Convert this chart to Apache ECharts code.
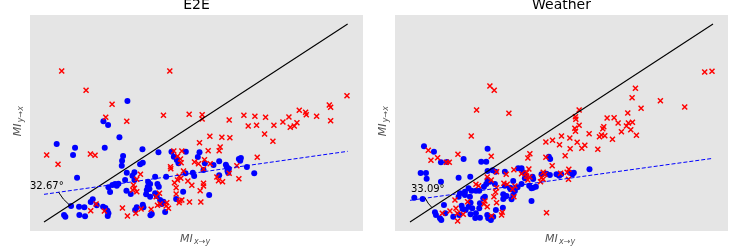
<!DOCTYPE html>
<html><head><meta charset="utf-8">
<script src="https://cdn.jsdelivr.net/npm/echarts@6/dist/echarts.min.js"></script>
<style>html,body{margin:0;padding:0;background:#fff}#c{width:741px;height:247px}</style>
</head><body><div id="c"></div>
<script>
const panelTitles = ['E2E', 'Weather'];
const xAxisName = ['MI', 'x→y'];
const yAxisName = ['MI', 'y→x'];
const angleLabels = ['32.67°', '33.09°'];
const angleLabelAt = [[90, 140], [123, 132]];
const xRanges = [[90, 1088], [75, 1075]];
const yRange = [7, 655];

const e2eBlue = [
[382,397],[310,336],[324,325],[358,288],[170,268],[225,257],[219,235],[314,257],[427,252],[231,167],
[369,232],[366,218],[365,203],[428,212],[420,207],[380,182],[403,183],[397,173],[375,160],[403,160],
[337,145],[345,148],[355,149],[350,143],[325,138],[330,124],[379,128],[392,118],[278,102],[272,94],
[290,84],[309,80],[316,76],[322,68],[325,60],[323,52],[237,80],[253,78],[213,82],[192,55],
[196,50],[238,55],[255,51],[428,86],[430,78],[410,78],[405,70],[444,155],[450,148],[443,140],
[448,133],[440,130],[438,117],[450,110],[472,148],[476,140],[465,120],[470,112],[480,100],[490,95],
[485,88],[495,64],[455,58],[451,54],[465,170],[498,170],[475,243],[514,245],[521,230],[530,220],
[535,210],[557,245],[598,243],[593,229],[614,210],[640,205],[657,216],[677,206],[680,199],[686,194],
[682,187],[716,223],[722,226],[720,218],[740,199],[762,180],[610,190],[578,182],[582,172],[556,180],
[657,174],[684,182],[549,125],[627,115],[528,103]
];
const e2eRed = [
[185,487],[509,487],[258,429],[336,387],[1040,413],[317,348],[380,336],[490,354],[567,357],[606,356],
[606,343],[687,340],[731,354],[764,351],[796,348],[744,322],[769,324],[821,324],[848,334],[866,349],
[897,369],[916,363],[918,356],[949,351],[987,385],[991,378],[991,338],[870,318],[882,322],[890,332],
[793,298],[818,276],[629,291],[665,288],[689,287],[598,272],[660,259],[657,248],[624,248],[771,228],
[140,235],[174,207],[271,238],[285,234],[716,164],[521,247],[545,247],[532,231],[541,223],[543,212],
[511,200],[512,194],[550,187],[537,171],[542,165],[532,160],[523,152],[563,157],[575,144],[583,214],
[595,209],[613,221],[630,209],[610,193],[650,169],[667,155],[655,158],[687,180],[710,203],[610,150],
[610,142],[600,128],[528,137],[528,118],[478,120],[468,110],[539,98],[545,100],[537,92],[568,94],
[602,94],[500,92],[498,82],[505,75],[480,88],[472,84],[453,72],[423,73],[407,60],[382,52],
[367,76],[421,177],[410,162],[400,145],[403,135],[410,125],[398,130],[288,88],[272,68],[313,67]
];
const e2eDiagonal = [[132, 34], [1042, 628]];
const e2eFit = [[132, 117], [1042, 246]];

const weatherBlue = [
[162,261],[192,245],[213,213],[231,214],[281,223],[353,254],[334,215],[349,215],[152,181],[168,181],
[170,164],[213,155],[266,167],[301,170],[353,187],[368,189],[377,185],[405,185],[445,195],[455,195],
[460,183],[468,172],[465,165],[488,170],[490,163],[530,179],[560,177],[568,173],[574,177],[600,182],
[608,177],[659,192],[537,230],[541,223],[430,157],[405,143],[422,132],[400,117],[405,110],[410,112],
[400,103],[435,127],[430,115],[478,143],[485,135],[490,137],[498,140],[485,97],[378,70],[370,50],
[133,107],[158,103],[222,85],[195,63],[198,55],[210,45],[214,40],[250,50],[226,60],[330,90],
[328,75],[340,105],[345,110],[285,115],[270,120],[266,110],[275,83],[278,73],[287,70],[302,57],
[318,60],[330,47],[352,55],[355,45],[296,80],[307,75],[316,46],[268,55],[353,160],[360,155],
[349,148],[375,148],[342,140],[328,128],[318,128],[305,128],[296,135],[285,125],[300,110],[302,92],
[363,40],[399,77],[420,137],[443,138],[455,148],[425,102],[540,175],[515,177],[612,182]
];
const weatherRed = [
[360,442],[373,429],[320,370],[417,360],[304,292],[1005,484],[1027,486],[797,435],[787,407],[872,398],
[814,375],[945,379],[628,370],[617,350],[618,342],[628,324],[615,315],[617,306],[600,286],[575,292],
[548,279],[528,274],[569,266],[622,273],[645,264],[636,255],[658,299],[586,233],[601,254],[684,252],
[695,295],[689,290],[705,293],[702,320],[699,314],[712,346],[733,347],[745,331],[728,282],[755,305],
[776,331],[774,361],[788,333],[770,322],[783,311],[800,294],[175,249],[183,219],[203,227],[229,213],
[238,213],[264,237],[364,231],[480,239],[474,226],[528,228],[547,203],[432,191],[455,179],[470,182],
[477,193],[470,172],[480,169],[474,160],[520,183],[525,177],[515,167],[520,162],[512,155],[572,180],
[597,192],[592,183],[596,162],[530,62],[380,185],[409,177],[352,169],[364,160],[402,150],[435,142],
[428,132],[432,110],[380,137],[377,124],[372,110],[380,92],[397,63],[395,55],[412,147],[318,147],
[326,143],[255,100],[217,60],[240,67],[258,75],[262,60],[280,57],[263,37],[293,95],[342,88],
[352,80],[345,97],[365,52]
];
const weatherDiagonal = [[120, 34], [1030, 628]];
const weatherFit = [[120, 99], [1030, 225]];

const panels = [
  { blue: e2eBlue, red: e2eRed, diag: e2eDiagonal, fit: e2eFit },
  { blue: weatherBlue, red: weatherRed, diag: weatherDiagonal, fit: weatherFit }
];

const gridBoxes = [{ left: 30, top: 15, width: 333, height: 216 }, { left: 395, top: 15, width: 333, height: 216 }];
const arcRadii = [[40, 34], [27, 24]];
const FONT = 'DejaVu Sans';
const LABEL_COLOR = '#555555';

const chart = echarts.init(document.getElementById('c'), null, { renderer: 'canvas' });
const grid = [], xAxis = [], yAxis = [], series = [];
const hiddenAxis = { axisLine: { show: false }, axisTick: { show: false }, axisLabel: { show: false }, splitLine: { show: false } };
panels.forEach((p, i) => {
  grid.push(Object.assign({ show: true, backgroundColor: '#E5E5E5', borderWidth: 0 }, gridBoxes[i]));
  xAxis.push(Object.assign({ gridIndex: i, type: 'value', min: xRanges[i][0], max: xRanges[i][1] }, hiddenAxis));
  yAxis.push(Object.assign({ gridIndex: i, type: 'value', min: yRange[0], max: yRange[1] }, hiddenAxis));
  series.push({
    type: 'scatter', xAxisIndex: i, yAxisIndex: i, data: p.blue, symbol: 'circle', symbolSize: 6,
    itemStyle: { color: '#0000FF', opacity: 1 }, silent: true, z: 2
  });
  series.push({
    type: 'scatter', xAxisIndex: i, yAxisIndex: i, data: p.red, symbol: 'path://M0,0L10,10M10,0L0,10', symbolSize: 5,
    itemStyle: { color: 'none', borderColor: '#FF0000', borderWidth: 1.5, opacity: 1 }, silent: true, z: 3
  });
  series.push({
    type: 'line', xAxisIndex: i, yAxisIndex: i, data: p.diag, symbol: 'none',
    lineStyle: { color: '#000', width: 1.1 }, silent: true, z: 4
  });
  series.push({
    type: 'line', xAxisIndex: i, yAxisIndex: i, data: p.fit, symbol: 'none',
    lineStyle: { color: '#0000FF', width: 1, type: [4, 2] }, silent: true, z: 4
  });
});

chart.setOption({ animation: false, grid, xAxis, yAxis, series });

const graphic = [];
panels.forEach((p, i) => {
  const g = gridBoxes[i];
  const cx = g.left + g.width / 2;
  const cy = g.top + g.height / 2;
  graphic.push({
    type: 'text', x: cx, y: 5.5,
    style: { text: panelTitles[i], fontFamily: FONT, fontSize: 14, fill: '#000', align: 'center', verticalAlign: 'middle' }
  });
  // x axis name: MI with subscript
  graphic.push({
    type: 'text', x: cx - 16.5, y: 238.7,
    style: { text: xAxisName[0], fontFamily: FONT, fontStyle: 'italic', fontSize: 11, fill: LABEL_COLOR, align: 'left', verticalAlign: 'middle' }
  });
  graphic.push({
    type: 'text', x: cx - 2.5, y: 241.8,
    style: { text: xAxisName[1], fontFamily: FONT, fontStyle: 'italic', fontSize: 8, fill: LABEL_COLOR, align: 'left', verticalAlign: 'middle' }
  });
  // y axis name (rotated)
  graphic.push({
    type: 'text', x: g.left - 11.7, y: cy + 13.2, rotation: Math.PI / 2,
    style: { text: yAxisName[0], fontFamily: FONT, fontStyle: 'italic', fontSize: 11, fill: LABEL_COLOR, align: 'left', verticalAlign: 'middle' }
  });
  graphic.push({
    type: 'text', x: g.left - 8.6, y: cy - 0.8, rotation: Math.PI / 2,
    style: { text: yAxisName[1], fontFamily: FONT, fontStyle: 'italic', fontSize: 8, fill: LABEL_COLOR, align: 'left', verticalAlign: 'middle' }
  });

  const toPx = (pt) => chart.convertToPixel({ gridIndex: i }, pt);
  const d0 = toPx(p.diag[0]), d1 = toPx(p.diag[1]);
  const f0 = toPx(p.fit[0]), f1 = toPx(p.fit[1]);
  const dx1 = d1[0] - d0[0], dy1 = d1[1] - d0[1];
  const dx2 = f1[0] - f0[0], dy2 = f1[1] - f0[1];
  const den = dx1 * dy2 - dy1 * dx2;
  const t = ((f0[0] - d0[0]) * dy2 - (f0[1] - d0[1]) * dx2) / den;
  const P = [d0[0] + t * dx1, d0[1] + t * dy1];
  const norm = (v) => { const l = Math.hypot(v[0], v[1]); return [v[0] / l, v[1] / l]; };
  const u1 = norm([f0[0] - P[0], f0[1] - P[1]]);
  const u2 = norm([d0[0] - P[0], d0[1] - P[1]]);
  const [r1, r2] = arcRadii[i];
  const c = u1[0] * u2[0] + u1[1] * u2[1];
  const A = [P[0] + r1 * u1[0], P[1] + r1 * u1[1]];
  const B = [P[0] + r2 * u2[0], P[1] + r2 * u2[1]];
  const C = [P[0] + (r1 * u1[0] + r2 * u2[0]) / (1 + c), P[1] + (r1 * u1[1] + r2 * u2[1]) / (1 + c)];
  graphic.push({
    type: 'bezierCurve', z: 10,
    shape: { x1: A[0], y1: A[1], x2: B[0], y2: B[1], cpx1: C[0], cpy1: C[1] },
    style: { stroke: '#000', lineWidth: 1, fill: null }
  });
  const L = toPx(angleLabelAt[i]);
  graphic.push({
    type: 'text', x: L[0], y: L[1], z: 10,
    style: { text: angleLabels[i], fontFamily: FONT, fontSize: 10, fill: '#000', align: 'left', verticalAlign: 'middle' }
  });
});
chart.setOption({ graphic });
</script></body></html>
